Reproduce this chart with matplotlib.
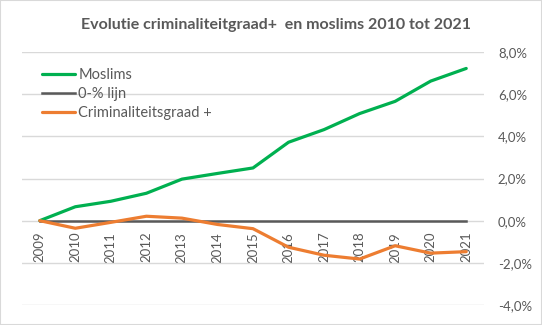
import matplotlib
matplotlib.use("Agg")
import matplotlib.pyplot as plt
from matplotlib.patches import Rectangle
from matplotlib.ticker import FuncFormatter

years = ["2009", "2010", "2011", "2012", "2013", "2014", "2015",
         "2016", "2017", "2018", "2019", "2020", "2021"]
moslims = [0.0, 0.66, 0.92, 1.30, 1.97, 2.24, 2.50, 3.72, 4.32, 5.08, 5.66, 6.62, 7.22]
nul_lijn = [0.0] * 13
criminaliteit = [0.0, -0.36, -0.08, 0.21, 0.12, -0.18, -0.38, -1.26, -1.64, -1.82, -1.19, -1.54, -1.47]
yticks = [-4, -2, 0, 2, 4, 6, 8]

TXT = "#595959"
fig = plt.figure(figsize=(5.42, 3.25), dpi=100)
fig.patches.append(Rectangle((0, 0), 1, 1, transform=fig.transFigure, fill=False,
                             edgecolor="#D9D9D9", linewidth=1.5))
ax = fig.add_axes([22/542, 1-305/325, 462/542, 253/325])

x = list(range(len(years)))
ax.plot(x, moslims, color="#00B050", lw=2.3, label="Moslims", solid_capstyle="round", zorder=3)
ax.plot(x, nul_lijn, color="#595959", lw=1.8, label="0-% lijn", zorder=3)
ax.plot(x, criminaliteit, color="#ED7D31", lw=2.3, label="Criminaliteitsgraad +", solid_capstyle="round", zorder=4)

ax.set_xlim(-0.5, len(years)-0.5)
ax.set_ylim(-4, 8)
ax.set_yticks(yticks)
ax.yaxis.set_major_formatter(FuncFormatter(lambda v, p: f"{v:.1f}%".replace(".", ",")))
ax.yaxis.tick_right()
ax.grid(axis="y", color="#D9D9D9", lw=1)
ax.set_axisbelow(True)
for s in ["top", "left", "right"]:
    ax.spines[s].set_visible(False)
ax.spines["bottom"].set_position(("data", 0))
ax.spines["bottom"].set_visible(False)
ax.set_xticks(x)
ax.set_xticklabels(years, rotation=90, fontfamily="Lato", fontsize=9.5, color=TXT)
ax.tick_params(axis="x", length=0, pad=8)
ax.tick_params(axis="y", length=0, pad=10, labelsize=9.5, labelcolor=TXT)
for t in ax.get_yticklabels():
    t.set_fontfamily("Lato")

leg = ax.legend(loc="upper left", bbox_to_anchor=(0.03, 0.96), frameon=False,
                prop={"family": "Lato", "size": 10.5}, handlelength=2.3,
                handletextpad=0.2, labelspacing=0.35, borderaxespad=0)
for t in leg.get_texts():
    t.set_color(TXT)

fig.text(276/542, 1-25/325, "Evolutie criminaliteitgraad+  en moslims 2010 tot 2021",
         ha="center", va="center", fontfamily="Lato", fontweight="bold", fontsize=11.5, color=TXT)

fig.savefig("out.png", dpi=100)
